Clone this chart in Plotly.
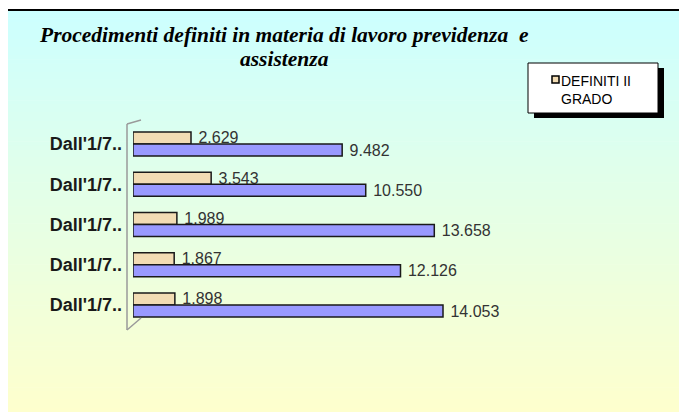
import plotly.graph_objects as go

# ---- data ----
categories = ["Dall'1/7..", "Dall'1/7..", "Dall'1/7..", "Dall'1/7..", "Dall'1/7.."]
positions = [0, 1, 2, 3, 4]
definiti_ii_grado = [2629, 3543, 1989, 1867, 1898]
definiti_i_grado = [9482, 10550, 13658, 12126, 14053]
series_names = ["DEFINITI II GRADO", "DEFINITI I GRADO"]
title_line1 = "Procedimenti definiti in materia di lavoro previdenza  e"
title_line2 = "assistenza"
legend_text = "DEFINITI II<br>GRADO"

OFF = 8  # page body margin
W, H = 687 - OFF, 412 - OFF
# plot area in window pixels: x 133..680, y 120..335
L, R, T, B = 133 - OFF, 687 - 680, 120 - OFF, 412 - 335
PW, PH = W - L - R, H - T - B


def px(x):
    return (x - OFF - L) / PW


def py(y):
    return (H - B - (y - OFF)) / PH


text_font = dict(family="Liberation Sans, Arial", size=16, color="#333333")

fig = go.Figure()
fig.add_trace(go.Bar(
    y=positions, x=definiti_ii_grado, orientation="h", name=series_names[0],
    marker=dict(color="#F2DCB4", line=dict(color="#1a1a1a", width=1.5)),
    texttemplate="\u00a0%{x:,.0f}", textposition="outside", constraintext="none",
    textfont=text_font, cliponaxis=False, showlegend=False,
))
fig.add_trace(go.Bar(
    y=positions, x=definiti_i_grado, orientation="h", name=series_names[1],
    marker=dict(color="#9999FF", line=dict(color="#1a1a1a", width=1.5)),
    texttemplate="\u00a0%{x:,.0f}", textposition="outside", constraintext="none",
    textfont=text_font, cliponaxis=False, showlegend=False,
))

shapes = []
# gradient background (cyan -> yellow)
top_c = (204, 255, 255)
bot_c = (255, 255, 204)
y0p, y1p = 10, 420
n = 100
for i in range(n):
    t = i / (n - 1)
    c = tuple(round(top_c[k] + (bot_c[k] - top_c[k]) * t) for k in range(3))
    ya = y0p + (y1p - y0p) * i / n
    yb = y0p + (y1p - y0p) * (i + 1) / n + 0.6
    shapes.append(dict(type="rect", xref="paper", yref="paper",
                       x0=px(6), x1=px(700), y0=py(ya), y1=py(yb),
                       fillcolor="rgb(%d,%d,%d)" % c, line=dict(width=0), layer="below"))
# frame
shapes.append(dict(type="rect", xref="paper", yref="paper",
                   x0=px(6), x1=px(700), y0=py(10), y1=py(430),
                   fillcolor="rgba(0,0,0,0)", line=dict(color="black", width=2), layer="below"))
# wall lines (3D axis wall)
wall = dict(color="#9a9a9a", width=1.5)
shapes.append(dict(type="line", xref="paper", yref="paper",
                   x0=px(127), x1=px(127), y0=py(124), y1=py(330), line=wall))
shapes.append(dict(type="line", xref="paper", yref="paper",
                   x0=px(127), x1=px(141), y0=py(124), y1=py(120), line=wall))
shapes.append(dict(type="line", xref="paper", yref="paper",
                   x0=px(127), x1=px(141), y0=py(330), y1=py(318), line=wall))
# legend shadow + box + key
shapes.append(dict(type="rect", xref="paper", yref="paper",
                   x0=px(534), x1=px(664), y0=py(68), y1=py(118),
                   fillcolor="black", line=dict(width=0)))
shapes.append(dict(type="rect", xref="paper", yref="paper",
                   x0=px(528), x1=px(658), y0=py(63), y1=py(113),
                   fillcolor="white", line=dict(color="black", width=1)))
shapes.append(dict(type="rect", xref="paper", yref="paper",
                   x0=px(552), x1=px(559), y0=py(76), y1=py(83),
                   fillcolor="#F2DCB4", line=dict(color="black", width=1.5)))

title_font = dict(family="Liberation Serif, Times New Roman, serif", size=21.5,
                  color="black", weight="bold", style="italic")
annotations = [
    dict(text=title_line1, xref="paper", yref="paper", x=px(284), y=py(35),
         xanchor="center", yanchor="middle", showarrow=False, font=title_font),
    dict(text=title_line2, xref="paper", yref="paper", x=px(284), y=py(59),
         xanchor="center", yanchor="middle", showarrow=False, font=title_font),
    dict(text=legend_text, xref="paper", yref="paper", x=px(559), y=py(71),
         xanchor="left", yanchor="top", showarrow=False, align="left",
         font=dict(family="Liberation Sans, Arial", size=14, color="black")),
]

fig.update_layout(
    width=W, height=H,
    margin=dict(l=L, r=R, t=T, b=B, pad=0),
    paper_bgcolor="white", plot_bgcolor="rgba(0,0,0,0)",
    barmode="group", bargap=0.40, bargroupgap=0,
    separators=",.",
    showlegend=False,
    shapes=shapes, annotations=annotations,
    xaxis=dict(range=[0, PW / 0.02206], visible=False, fixedrange=True),
    yaxis=dict(range=[4.745, -0.596], tickvals=positions, ticktext=categories,
               showgrid=False, zeroline=False, showline=False, ticks="",
               ticklabelstandoff=10,
               tickfont=dict(family="Liberation Sans, Arial", size=18,
                             color="#1a1a1a", weight="bold")),
)

fig.write_html("out.html")
